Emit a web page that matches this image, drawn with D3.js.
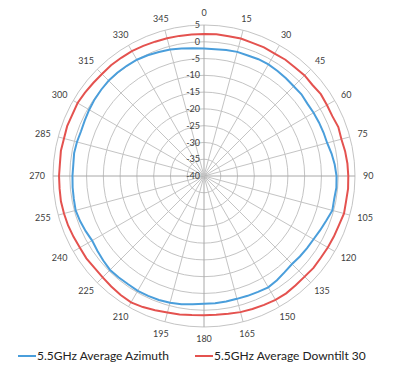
<!DOCTYPE html>
<html>
<head>
<meta charset="utf-8">
<script src="https://cdn.jsdelivr.net/npm/d3@7"></script>
<style>
  body { margin: 0; background: #fff; }
  svg { display: block; font-family: Lato, "Open Sans", sans-serif; }
</style>
</head>
<body>
<div id="chart"></div>
<script>
// angles in degrees, one reading every 5 degrees
const angles = d3.range(0, 360, 5);
const angleLabels = d3.range(0, 360, 15);
const ringValues = [5, 0, -5, -10, -15, -20, -25, -30, -35, -40];

const seriesNames = ["5.5GHz Average Azimuth", "5.5GHz Average Downtilt 30"];

// dB values
const azimuth = [
  -2.0, -2.1, -1.9, -1.7, -1.8, -1.6, -1.6, -1.8, -2.0, -2.2, -2.1, -2.4,
  -2.3, -2.2, -2.1, -2.0, -1.4, -0.9, -0.5, -0.4, -0.6, -0.4, -1.2, -1.8,
  -2.3, -2.5, -2.7, -2.9, -2.6, -2.1, -1.7, -1.9, -2.0, -2.1, -2.0, -1.9,
  -1.9, -1.6, -1.2, -0.9, -0.7, -0.6, -0.5, -0.6, -0.5, -0.4, -0.8, -1.2,
  -1.5, -1.1, -0.7, -0.4, -0.6, -0.7, -0.8, -0.9, -0.7, -0.8, -1.0, -0.8,
  -0.5, -0.2, 0.0, 0.2, 0.2, 0.1, 0.0, -0.3, -0.7, -1.0, -1.4, -1.8
];
const downtilt = [
  2.3, 2.4, 2.3, 2.4, 2.2, 2.3, 2.1, 2.3, 2.2, 2.4, 2.2, 2.5,
  2.3, 2.2, 2.6, 2.4, 2.7, 2.9, 3.0, 3.1, 3.0, 3.2, 2.8, 2.7,
  2.6, 2.5, 2.6, 2.4, 2.5, 2.7, 2.6, 2.4, 2.2, 2.0, 1.7, 1.5,
  1.5, 1.6, 1.9, 2.1, 2.6, 3.1, 3.5, 3.3, 3.0, 2.7, 2.6, 2.8,
  2.7, 2.9, 3.1, 3.2, 3.3, 3.2, 3.2, 3.1, 3.3, 3.2, 3.4, 3.3,
  3.5, 3.3, 3.1, 3.0, 3.1, 3.0, 3.0, 2.8, 2.6, 2.5, 2.4, 2.3
];

const colors = ["#4a9edb", "#e4524f"];

const width = 395, height = 376;
const cx = 204, cy = 176, outerR = 151;

const svg = d3.select("#chart").append("svg")
    .attr("width", width)
    .attr("height", height);

const r = d3.scaleLinear().domain([-40, 5]).range([0, outerR]);
const rad = a => a * Math.PI / 180;

const g = svg.append("g").attr("transform", `translate(${cx},${cy})`);

// rings
g.append("g").selectAll("circle")
  .data(ringValues.filter(v => v > -40))
  .join("circle")
    .attr("r", d => r(d))
    .attr("fill", "none")
    .attr("stroke", "#c4c4c4")
    .attr("stroke-width", 1);

// spokes
g.append("g").selectAll("line")
  .data(angleLabels)
  .join("line")
    .attr("x1", 0).attr("y1", 0)
    .attr("x2", d => Math.sin(rad(d)) * outerR)
    .attr("y2", d => -Math.cos(rad(d)) * outerR)
    .attr("stroke", d => d % 90 === 0 ? "#a8a8a8" : "#c4c4c4")
    .attr("stroke-width", 1);

// radial value labels, left of the 0 spoke
g.append("g").selectAll("text")
  .data(ringValues)
  .join("text")
    .attr("x", -4)
    .attr("y", d => -r(d))
    .attr("dy", "0.35em")
    .attr("text-anchor", "end")
    .attr("font-size", 9)
    .attr("fill", "#404040")
    .text(d => d);

// angle labels outside the outer ring
const angG = g.append("g");
angleLabels.forEach(a => {
  const t = angG.append("text")
    .attr("font-size", 9)
    .attr("fill", "#404040")
    .attr("text-anchor", "middle")
    .attr("dy", "0.35em")
    .text(a);
  const w = t.node().getComputedTextLength();
  const sx = Math.sin(rad(a)), sy = -Math.cos(rad(a));
  const x = sx * 158 + sx * (w / 2 + 1);
  const y = sy * 158 + sy * 5;
  t.attr("x", x).attr("y", y);
});

// series
const line = d3.lineRadial()
    .angle(d => rad(d[0]))
    .radius(d => r(d[1]))
    .curve(d3.curveLinearClosed);

[azimuth, downtilt].forEach((vals, i) => {
  g.append("path")
    .datum(angles.map((a, j) => [a, vals[j]]))
    .attr("d", line)
    .attr("fill", "none")
    .attr("stroke", colors[i])
    .attr("stroke-width", 2);
});

// legend
const legX = [18, 195];
const leg = svg.append("g");
seriesNames.forEach((name, i) => {
  leg.append("line")
    .attr("x1", legX[i]).attr("x2", legX[i] + 18)
    .attr("y1", 356).attr("y2", 356)
    .attr("stroke", colors[i])
    .attr("stroke-width", 2);
  leg.append("text")
    .attr("x", legX[i] + 19)
    .attr("y", 360)
    .attr("font-size", 12)
    .attr("fill", "#222")
    .text(name);
});
</script>
</body>
</html>
